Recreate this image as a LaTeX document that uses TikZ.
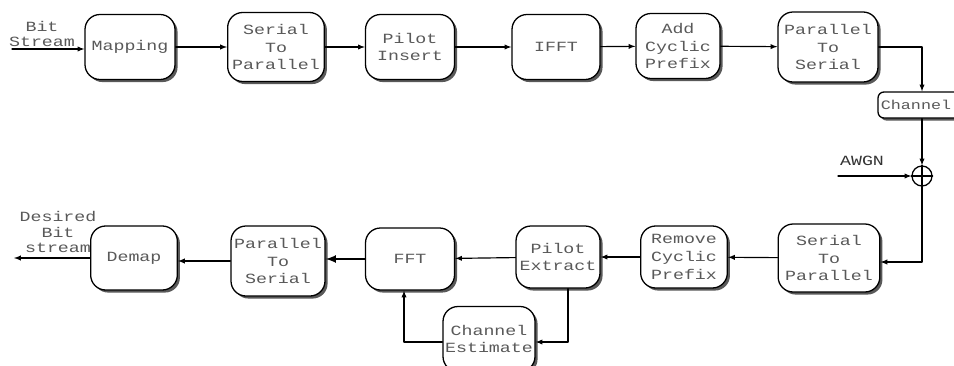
\documentclass[tikz,border=0pt]{standalone}
\usepackage{fontspec}
\newfontfamily\diagfont[FakeStretch=1.3]{Liberation Mono}
\usepackage{tikz}
\tikzset{>=latex}
\usetikzlibrary{shapes,arrows}
\usetikzlibrary{calc}
\usetikzlibrary{shadows}
\tikzset{
	blk/.style={draw=black,line width=1.1pt,rounded corners=0.45cm,fill=white,
		minimum width=2.7cm,minimum height=1.95cm,inner sep=0pt,align=center,
		text=black!65,font=\diagfont\fontsize{12}{15}\selectfont,
		drop shadow={shadow xshift=2.2pt,shadow yshift=-2.2pt,fill=black!65,opacity=1}},
	lbl/.style={align=center,inner sep=0pt,text=black!65,font=\diagfont\fontsize{12}{13}\selectfont},
	flow/.style={->,line width=1pt,black}
}
\begin{document}
\begin{tikzpicture}[line cap=round,line join=round,x=0.03cm,y=-0.03cm]
		\clip (0,0) rectangle (954,366);
		\fill[white] (0,0) rectangle (954,366);
		% transmitter
		\node[blk] (map) at (130,47) {Mapping};
		\node[blk,minimum width=2.9cm,minimum height=2.07cm] (sp) at (276,47) {Serial\\To\\Parallel};
		\node[blk,minimum width=2.67cm] (pin) at (410,47) {Pilot\\Insert};
		\node[blk,minimum width=2.64cm] (ifft) at (556,47) {IFFT};
		\node[blk,minimum width=2.52cm] (acp) at (678,46) {Add\\Cyclic\\Prefix};
		\node[blk,minimum width=3cm,minimum height=2.1cm] (ps) at (828,47) {Parallel\\To\\Serial};
		% channel
		\node[blk,rounded corners=0.18cm,minimum width=2.64cm,minimum height=0.78cm,drop shadow={opacity=0}] (chan) at (922,105) {\fontsize{11}{13}\selectfont\hspace*{-0.36cm}Channel};
		\node[draw,circle,line width=1.1pt,minimum size=0.6cm,inner sep=0pt] (sum) at (922,176) {};
		\draw[line width=1.1pt] (sum.north) -- (sum.south) (sum.west) -- (sum.east);
		\node[lbl,text=black!80] (awgn) at (862,161) {AWGN};
		\coordinate (nin) at (838,176);
		% receiver
		\node[blk,minimum width=3.05cm,minimum height=2.04cm] (spr) at (829,258) {Serial\\To\\Parallel};
		\node[blk,minimum width=2.6cm,minimum height=1.86cm] (rcp) at (684,257) {Remove\\Cyclic\\Prefix};
		\node[blk,minimum width=2.52cm,minimum height=1.86cm] (pex) at (558,257) {Pilot\\Extract};
		\node[blk,minimum width=2.67cm,minimum height=1.86cm] (fft) at (410,259) {FFT};
		\node[blk,minimum width=2.82cm,minimum height=2.1cm] (psr) at (278,261) {Parallel\\To\\Serial};
		\node[blk,minimum width=2.6cm,minimum height=1.92cm] (dem) at (134,258) {Demap};
		\node[blk,minimum width=2.76cm,minimum height=1.95cm] (est) at (489,339) {Channel\\Estimate};
		% input and output
		\coordinate (bin) at (12,49);
		\node[lbl] (bitin) at (42,34) {Bit\\Stream};
		\coordinate (bout) at (14,258);
		\node[lbl] (bitout) at (58,232) {Desired\\Bit\\stream};
		% connectors
		\draw[flow] (bin) -- (bin -| map.west);
		\draw[flow] (map) -- (sp);
		\draw[flow] (sp) -- (pin);
		\draw[flow] (pin) -- (ifft);
		\draw[flow] (ifft) -- (acp);
		\draw[flow] (acp) -- (ps);
		\draw[flow] (ps.east) -| (chan.north);
		\draw[flow] (chan.south) -- (sum.north);
		\draw[flow] (nin) -- (sum.west);
		\draw[flow] (sum.south) |- ($(spr.east)+(0,4)$);
		\draw[flow] (spr) -- (rcp);
		\draw[flow] (rcp) -- (pex);
		\draw[flow] (pex) -- (fft);
		\draw[->,line width=2pt] (fft.west) -- (fft.west -| psr.east);
		\draw[flow] (psr.west) -- (psr.west -| dem.east);
		\draw[flow] (dem.west) -- (bout);
		\draw[flow] ($(pex.south)+(10,0)$) |- ($(est.east)+(0,3)$);
		\draw[flow] ($(est.west)+(0,3)$) -| ($(fft.south)+(-6,0)$);
\end{tikzpicture}
\end{document}
